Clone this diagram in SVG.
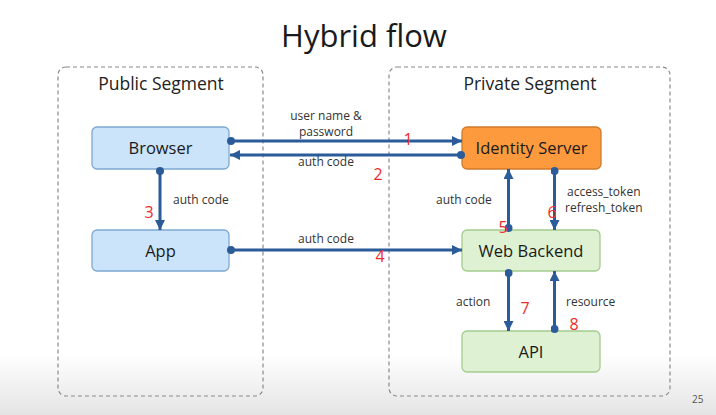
<svg xmlns="http://www.w3.org/2000/svg" width="716" height="415" viewBox="0 0 716 415">
<defs>
<linearGradient id="bg" x1="0" y1="0" x2="0" y2="1">
<stop offset="0" stop-color="#ffffff"/>
<stop offset="0.85" stop-color="#ffffff"/>
<stop offset="0.93" stop-color="#f1f1f1"/>
<stop offset="1" stop-color="#e4e4e4"/>
</linearGradient>
<marker id="arr" viewBox="0 0 10 10" refX="10" refY="5" markerWidth="10" markerHeight="10" markerUnits="userSpaceOnUse" orient="auto">
<path d="M0,0 L10,5 L0,10 Z" fill="#2b5b98"/>
</marker>
<marker id="dot" viewBox="0 0 10 10" refX="5" refY="5" markerWidth="8" markerHeight="8" markerUnits="userSpaceOnUse" orient="auto">
<circle cx="5" cy="5" r="5" fill="#2b5b98"/>
</marker>
</defs>
<style>
text{font-family:"Open Sans","Noto Sans","DejaVu Sans",sans-serif;}
.title{font-size:31px;fill:#1a1a1a;text-anchor:middle;}
.seg{fill:none;stroke:#8a8a8a;stroke-width:1.2;stroke-dasharray:4 3;}
.segt{font-size:17.5px;fill:#222;text-anchor:middle;}
.node text{font-size:16.5px;fill:#1a1a1a;text-anchor:middle;}
.blue{fill:#cce4fa;stroke:#7ea8d2;stroke-width:1.3;}
.orange{fill:#fd9a3e;stroke:#cf7b2c;stroke-width:1.3;}
.green{fill:#def1d3;stroke:#a4cc8e;stroke-width:1.3;}
.conn line{stroke:#2b5b98;stroke-width:3;marker-start:url(#dot);marker-end:url(#arr);}
.lbl{font-size:12px;fill:#333;}
.num{font-size:16px;fill:#ee2a2a;text-anchor:middle;}
</style>
<rect x="0" y="0" width="716" height="415" fill="url(#bg)"/>
<text class="title" x="364" y="47">Hybrid flow</text>
<g id="public-segment">
<rect class="seg" x="58" y="67" width="205" height="329" rx="8"/>
<text class="segt" x="161" y="90">Public Segment</text>
</g>
<g id="private-segment">
<rect class="seg" x="389" y="67" width="281" height="329" rx="8"/>
<text class="segt" x="530" y="90">Private Segment</text>
</g>
<g id="browser" class="node">
<rect class="blue" x="92" y="127" width="137" height="42" rx="5"/>
<text x="160.5" y="154">Browser</text>
</g>
<g id="app" class="node">
<rect class="blue" x="92" y="230" width="137" height="41" rx="5"/>
<text x="160.5" y="257">App</text>
</g>
<g id="identity-server" class="node">
<rect class="orange" x="462" y="127" width="139" height="42" rx="5"/>
<text x="531.5" y="154">Identity Server</text>
</g>
<g id="web-backend" class="node">
<rect class="green" x="462" y="230" width="138" height="41" rx="5"/>
<text x="531" y="257">Web Backend</text>
</g>
<g id="api" class="node">
<rect class="green" x="462" y="331" width="138" height="41" rx="5"/>
<text x="531" y="358">API</text>
</g>
<g id="connectors" class="conn">
<line x1="231" y1="141" x2="462" y2="141"/>
<line x1="461" y1="155" x2="230" y2="155"/>
<line x1="160" y1="171" x2="160" y2="230"/>
<line x1="231" y1="250" x2="462" y2="250"/>
<line x1="508.5" y1="228" x2="508.5" y2="169"/>
<line x1="554.5" y1="171" x2="554.5" y2="230"/>
<line x1="508.5" y1="273" x2="508.5" y2="331"/>
<line x1="554.5" y1="329" x2="554.5" y2="271"/>
</g>
<g id="labels">
<text class="lbl" x="326" y="120" text-anchor="middle">user name &amp;</text>
<text class="lbl" x="326" y="136" text-anchor="middle">password</text>
<text class="lbl" x="326" y="166" text-anchor="middle">auth code</text>
<text class="lbl" x="173" y="204">auth code</text>
<text class="lbl" x="326" y="243" text-anchor="middle">auth code</text>
<text class="lbl" x="436" y="204">auth code</text>
<text class="lbl" x="567" y="196">access_token</text>
<text class="lbl" x="565" y="212">refresh_token</text>
<text class="lbl" x="456" y="306">action</text>
<text class="lbl" x="566" y="306">resource</text>
<text class="num" x="408" y="145">1</text>
<text class="num" x="378" y="180">2</text>
<text class="num" x="149" y="218">3</text>
<text class="num" x="380" y="262">4</text>
<text class="num" x="503" y="233">5</text>
<text class="num" x="552" y="218">6</text>
<text class="num" x="525" y="314">7</text>
<text class="num" x="574" y="330">8</text>
<text x="692" y="403" font-size="10" fill="#555">25</text>
</g>
</svg>
